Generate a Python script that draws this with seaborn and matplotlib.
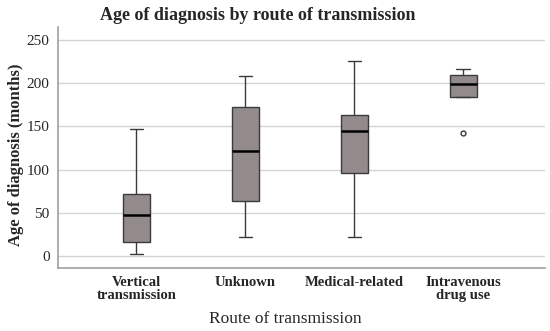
import pandas as pd
import matplotlib
matplotlib.use("Agg")
import matplotlib.pyplot as plt
import seaborn as sns

# values (five points each give the box stats)
routes = ["Vertical\ntransmission", "Unknown", "Medical-related", "Intravenous\ndrug use"]
vertical = [2, 16, 47, 72, 147]
unknown = [22, 64, 122, 172, 208]
medical = [22, 96, 145, 163, 226]
iv_drug = [142, 184, 199, 209, 216]
yticks = [0, 50, 100, 150, 200, 250]

rows = []
for r, vals in zip(routes, [vertical, unknown, medical, iv_drug]):
    for v in vals:
        rows.append({"route": r, "age": v})
df = pd.DataFrame(rows)

sns.set_style("white")
plt.rcParams["font.family"] = ["Liberation Serif", "DejaVu Serif"]

fig = plt.figure(figsize=(5.5, 3.31), dpi=100)
ax = fig.add_axes([58 / 550, 1 - 268 / 331, 487 / 550, 241 / 331])

sns.boxplot(data=df, x="route", y="age", order=routes, ax=ax, width=0.25,
            color="#938b8b", saturation=1, whis=1.5,
            linecolor="#3a3a3a", linewidth=1,
            medianprops=dict(color="black", linewidth=1.8),
            flierprops=dict(marker="o", markersize=3.5, markerfacecolor="white",
                            markeredgecolor="#3a3a3a", markeredgewidth=1))

ax.set_xlim(-0.72, 3.75)
ax.set_ylim(-14, 265)
ax.set_yticks(yticks)
ax.yaxis.grid(True, color="#d4d4d4", linewidth=1)
ax.set_axisbelow(True)
for s in ["top", "right"]:
    ax.spines[s].set_visible(False)
for s in ["left", "bottom"]:
    ax.spines[s].set_color("#a0a0a0")
    ax.spines[s].set_linewidth(1.2)

ax.tick_params(axis="both", length=0)
ax.tick_params(axis="y", labelsize=11, pad=6)
ax.tick_params(axis="x", labelsize=10.5, pad=6)
for lab in ax.get_xticklabels():
    lab.set_fontweight("bold")
    lab.set_linespacing(0.95)

ax.set_xlabel("Route of transmission", fontsize=12.5)
ax.xaxis.set_label_coords((285 - 58) / 487, -43 / 241)
ax.set_ylabel("Age of diagnosis (months)", fontsize=12, fontweight="bold")
ax.yaxis.set_label_coords((24 - 58) / 487, 0.47)
fig.text(258 / 550, 1 - 15 / 331, "Age of diagnosis by route of transmission",
         ha="center", va="center", fontsize=13, fontweight="bold")

fig.savefig("out.png", dpi=100)
